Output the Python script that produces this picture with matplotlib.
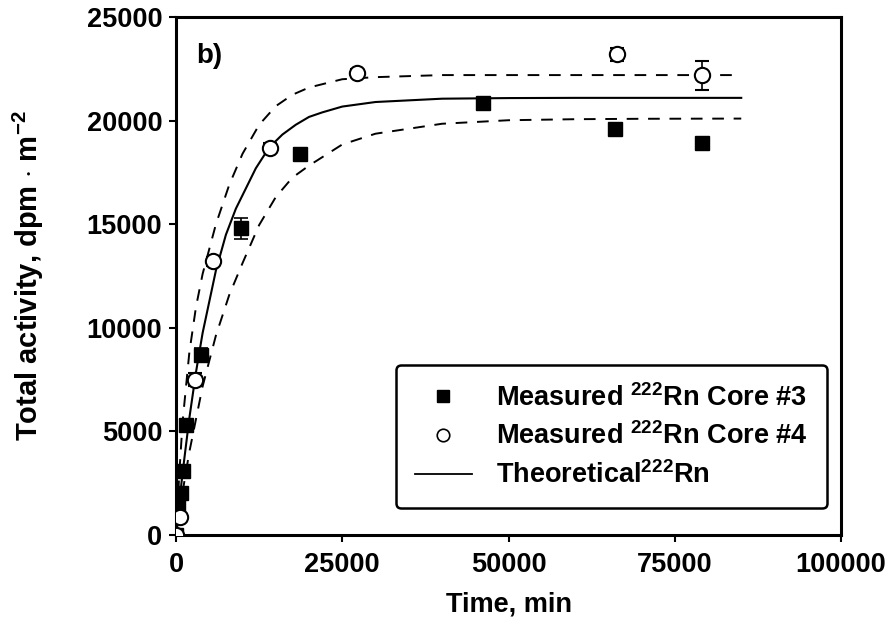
import numpy as np
import matplotlib
matplotlib.use("Agg")
from matplotlib import pyplot as plt
from matplotlib.lines import Line2D

plt.rcParams['font.family'] = ['Liberation Sans', 'DejaVu Sans']
plt.rcParams['font.weight'] = 'bold'
plt.rcParams['mathtext.fontset'] = 'custom'
plt.rcParams['mathtext.rm'] = 'Liberation Sans:bold'
plt.rcParams['mathtext.it'] = 'Liberation Sans:bold'

# measured 222Rn, core #3 (filled squares)
core3_t = [0, 300, 800, 1000, 1500, 3700, 9800, 18700, 46200, 66000, 79100]
core3_a = [0, 1500, 2000, 3100, 5300, 8700, 14800, 18400, 20850, 19600, 18900]
core3_err = [0, 100, 100, 150, 150, 300, 500, 300, 200, 250, 200]

# measured 222Rn, core #4 (open circles)
core4_t = [0, 600, 2900, 5600, 14100, 27200, 66300, 79100]
core4_a = [0, 850, 7500, 13200, 18700, 22300, 23200, 22200]
core4_err = [0, 100, 300, 200, 200, 200, 300, 700]

# theoretical curve
theo_t = [0, 500, 1000, 2000, 3000, 4000, 6000, 7500, 9000, 12000, 14000,
          16000, 18000, 20000, 22000, 25000, 30000, 40000, 50000, 60000,
          70000, 85000]
theo_a = [0, 1580, 3030, 5630, 7850, 9750, 12770, 14490, 15750, 17700, 18700,
          19330, 19800, 20180, 20400, 20680, 20900, 21060, 21090, 21100,
          21100, 21100]

# upper / lower dashed envelopes
upper_t = [0, 500, 1000, 2000, 3000, 4000, 6000, 8000, 10000, 12500, 15000,
           17500, 20000, 25000, 30000, 40000, 55000, 70000, 85000]
upper_a = [0, 3000, 5500, 8800, 11000, 12600, 15000, 16900, 18400, 19800,
           20700, 21250, 21600, 22000, 22100, 22200, 22200, 22200, 22200]
lower_t = [0, 1000, 2000, 4000, 6000, 8000, 10000, 12500, 15000, 17500,
           20000, 25000, 30000, 40000, 50000, 60000, 70000, 85000]
lower_a = [0, 2090, 4000, 7170, 9630, 11580, 13120, 14960, 16310, 17250,
           17830, 18850, 19370, 19850, 20020, 20070, 20090, 20100]

xticks = [0, 25000, 50000, 75000, 100000]
yticks = [0, 5000, 10000, 15000, 20000, 25000]

fig = plt.figure(figsize=(8.89, 6.33), dpi=100)
ax = fig.add_axes([0.198, 0.155, 0.748, 0.818])

ax.plot(upper_t, upper_a, color='black', lw=1.4, ls=(0, (6, 5)))
ax.plot(lower_t, lower_a, color='black', lw=1.4, ls=(0, (6, 5)))
ax.plot(theo_t, theo_a, color='black', lw=1.5)

ax.errorbar(core3_t, core3_a, yerr=core3_err, fmt='s', color='black',
            ms=10, capsize=5, elinewidth=1.2, capthick=1.2, zorder=4)
ax.errorbar(core4_t, core4_a, yerr=core4_err, fmt='o', mfc='white', mec='black',
            color='black', ms=11, mew=1.5, capsize=5, elinewidth=1.2,
            capthick=1.2, zorder=5)

ax.set_xlim(0, 100000)
ax.set_ylim(0, 25000)
ax.set_xticks(xticks)
ax.set_yticks(yticks)
ax.tick_params(direction='out', length=5, width=1.5, labelsize=19.5)
ax.tick_params(axis='x', pad=7)
ax.tick_params(axis='y', pad=5)
for s in ax.spines.values():
    s.set_linewidth(2.2)

ax.set_xlabel('Time, min', fontsize=19.5, fontweight='bold', va='center')
ax.xaxis.set_label_coords(0.5, -0.135)
ax.set_ylabel('Total activity, dpm $\\cdot$ m$^{-2}$', fontsize=21,
              fontweight='bold', va='center')
ax.yaxis.set_label_coords(-0.222, 0.5)
ax.text(0.03, 0.925, 'b)', transform=ax.transAxes, fontsize=20, va='center')

handles = [
    Line2D([], [], marker='s', ls='none', color='black', ms=9),
    Line2D([], [], marker='o', ls='none', mfc='white', mec='black', ms=9, mew=1.2),
    Line2D([], [], color='black', lw=1.3),
]
labels = [r'Measured $^{222}$Rn Core #3', r'Measured $^{222}$Rn Core #4',
          r'Theoretical$^{222}$Rn']
leg = ax.legend(handles, labels, loc='lower right', bbox_to_anchor=(0.979, 0.052),
                borderaxespad=0, fontsize=19.5, frameon=True, fancybox=True,
                edgecolor='black', framealpha=1, handlelength=2.1,
                handletextpad=0.9, borderpad=0.7, labelspacing=0.4)
leg.get_frame().set_linewidth(1.8)

fig.savefig('out.png', dpi=100)
